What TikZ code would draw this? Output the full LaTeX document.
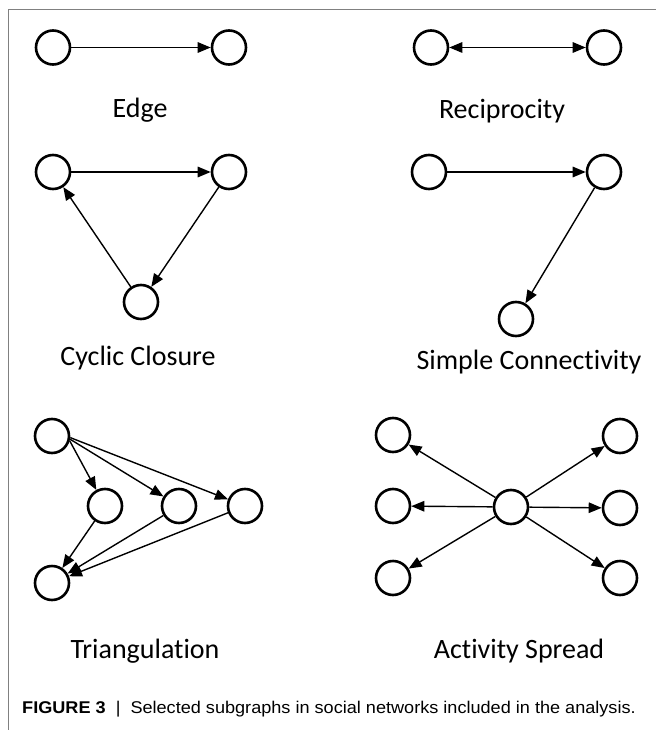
\documentclass[tikz,border=0pt]{standalone}
\usepackage{fontspec}
\setmainfont[Ligatures=NoCommon]{Carlito}
\newfontfamily\capfont{Liberation Sans}
\usetikzlibrary{arrows.meta}
\tikzset{
  nd/.style={circle,draw=black,line width=2.6pt,minimum size=34pt,inner sep=0pt,fill=white},
  ar/.style={line width=1.4pt,-{Triangle[length=13pt,width=10.5pt]}},
  br/.style={line width=1.4pt,{Triangle[length=13pt,width=10.5pt]}-{Triangle[length=13pt,width=10.5pt]}},
  lbl/.style={anchor=base,font=\fontsize{28}{32}\selectfont,inner sep=0pt},
  frame/.style={draw=black!50,line width=1pt}
}
\begin{document}
\begin{tikzpicture}[x=1pt,y=-1pt]
\useasboundingbox (0,0) rectangle (656,730);
\fill[white] (0,0) rectangle (656,730);
\coordinate (f1) at (8,730);
\coordinate (f2) at (8,10);
\coordinate (f3) at (656,10);
\draw[frame] (f1) -- (f2) -- (f3);
% Edge
\node[nd] (e1) at (53,47.5) {};
\node[nd] (e2) at (229,47.5) {};
\draw[ar] (e1) -- (e2);
\node[lbl] (le) at (140,118) {Edge};
% Reciprocity
\node[nd] (r1) at (431,47.5) {};
\node[nd] (r2) at (604,47.5) {};
\draw[br] (r1) -- (r2);
\node[lbl] (lr) at (502,119) {Reciprocity};
% Cyclic closure
\node[nd] (c1) at (53,172) {};
\node[nd] (c2) at (229,172) {};
\node[nd] (c3) at (141,302) {};
\draw[ar] (c1) -- (c2);
\draw[ar] (c2) -- (c3);
\draw[ar] (c3) -- (c1);
\node[lbl] (lc) at (138,365) {Cyclic Closure};
% Simple connectivity
\node[nd] (s1) at (429,172) {};
\node[nd] (s2) at (604,172) {};
\node[nd] (s3) at (516,319) {};
\draw[ar] (s1) -- (s2);
\draw[ar] (s2) -- (s3);
\node[lbl] (ls) at (529,369) {Simple Connectivity};
% Triangulation
\node[nd] (t0) at (52,436) {};
\node[nd] (t1) at (105,506) {};
\node[nd] (t2) at (179,506) {};
\node[nd] (t3) at (245,506) {};
\node[nd] (t4) at (52,583) {};
\draw[ar] (t0.-15) -- (t1);
\draw[ar] (t0.-10) -- (t2);
\draw[ar] (t0.-5) -- (t3);
\draw[ar] (t1) -- (t4);
\draw[ar] (t2) -- (t4);
\draw[ar] (t3) -- (t4);
\node[lbl] (lt) at (145,658) {Triangulation};
% Activity spread
\node[nd] (a0) at (511,507) {};
\node[nd] (a1) at (393,435) {};
\node[nd] (a2) at (393,506) {};
\node[nd] (a3) at (393,578) {};
\node[nd] (a4) at (620,436) {};
\node[nd] (a5) at (620,508) {};
\node[nd] (a6) at (620,578) {};
\foreach \n in {a1,a2,a3,a4,a5,a6} \draw[ar] (a0) -- (\n);
\node[lbl] (la) at (519,658) {Activity Spread};
% Caption
\node[anchor=base west,inner sep=0pt,font=\capfont\fontsize{17}{20}\selectfont] (cap) at (22,713)
  {\scalebox{1.065}[1]{\textbf{FIGURE 3}\ \ |\ \ Selected subgraphs in social networks included in the analysis.}};
\end{tikzpicture}
\end{document}
